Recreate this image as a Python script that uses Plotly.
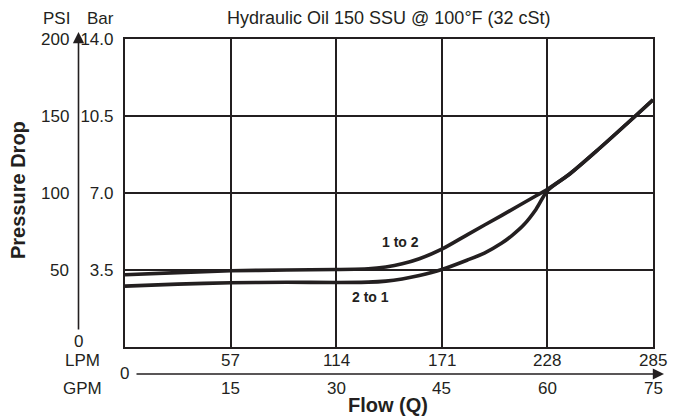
import plotly.graph_objects as go

# ---- data ----
lpm_ticks = [57, 114, 171, 228, 285]
gpm_ticks = [15, 30, 45, 60, 75]
psi_ticks = [50, 100, 150, 200]
bar_ticks = ["3.5", "7.0", "10.5", "14.0"]

flow_1to2 = [0, 28.4, 57, 87.3, 114, 131.3, 140.8, 149.6, 158.9, 171, 184.9, 203.4, 221.9, 228, 240.2, 253.8, 274.6, 285]
psi_1to2 = [46.9, 48.3, 49.5, 50.0, 50.3, 50.8, 52.0, 54.0, 57.3, 63.5, 73.0, 85.5, 98.2, 102.5, 112.5, 126.5, 149.0, 160.5]

flow_2to1 = [0, 28.4, 57, 87.3, 114, 131.3, 140.8, 149.6, 158.9, 171, 184.9, 194, 203.4, 209, 215, 221.9, 228, 240.2, 253.8, 274.6, 285]
psi_2to1 = [39.5, 40.8, 41.7, 42.0, 41.9, 42.1, 42.8, 44.2, 46.4, 50.3, 56.5, 61.0, 67.5, 72.5, 79.0, 89.5, 101.5, 112.5, 126.5, 149.0, 160.5]

title_text = "Hydraulic Oil 150 SSU @ 100°F (32 cSt)"

INK = "#231f20"
FONT = "Liberation Sans, Arial, sans-serif"

# plot area in pixels
W, H = 683, 418
L, R, T, B = 125, 30, 39, 71
pw, ph = W - L - R, H - T - B


def px(xp):
    return (xp - L) / pw


def py(yp):
    return (H - B - yp) / ph


fig = go.Figure()
for fx, fy in ((flow_1to2, psi_1to2), (flow_2to1, psi_2to1)):
    fig.add_trace(go.Scatter(x=fx, y=fy, mode="lines",
                             line=dict(color=INK, width=3.6, shape="spline", smoothing=0.7),
                             showlegend=False, hoverinfo="skip"))


def txt(x, y, s, xref="paper", yref="paper", size=17, xa="center", ya="middle", **kw):
    d = dict(x=x, y=y, xref=xref, yref=yref, text=s, showarrow=False,
             xanchor=xa, yanchor=ya, font=dict(size=size, color=INK, family=FONT))
    d.update(kw)
    return d


ann = []
# PSI column labels
for v in psi_ticks:
    ann.append(txt(px(71), v, str(v), yref="y", xa="right"))
ann.append(txt(px(78.5), py(341), "0"))
# headers
ann.append(txt(px(56), py(18), "PSI"))
ann.append(txt(px(100.5), py(18), "Bar"))
ann.append(txt(px(389), py(18), title_text, size=18))
# LPM / GPM labels
for lv, gv in zip(lpm_ticks, gpm_ticks):
    ann.append(txt(lv, py(360.5), str(lv), xref="x"))
    ann.append(txt(lv, py(389), str(gv), xref="x"))
ann.append(txt(px(82), py(360.5), "LPM"))
ann.append(txt(px(82), py(389), "GPM"))
ann.append(txt(px(124), py(373), "0"))
# axis titles
ann.append(txt(px(388), py(405), "<b>Flow (Q)</b>", size=20))
ann.append(txt(px(18), py(190), "<b>Pressure Drop</b>", size=20, textangle=-90))
# curve labels
ann.append(txt(148.9, 67.9, "<b>1 to 2</b>", xref="x", yref="y", size=14))
ann.append(txt(132.4, 32.7, "<b>2 to 1</b>", xref="x", yref="y", size=14))
# arrows
ann.append(dict(x=px(78.5), y=py(32), xref="paper", yref="paper", ax=0, ay=299, axref="pixel", ayref="pixel",
                text="", showarrow=True, arrowhead=2, arrowsize=1.4, arrowwidth=1.6, arrowcolor=INK))
ann.append(dict(x=px(664), y=py(374), xref="paper", yref="paper", ax=-529, ay=0, axref="pixel", ayref="pixel",
                text="", showarrow=True, arrowhead=2, arrowsize=1.4, arrowwidth=1.6, arrowcolor=INK))

fig.update_layout(
    width=W, height=H, autosize=False,
    margin=dict(l=L, r=R, t=T, b=B, pad=0),
    paper_bgcolor="white", plot_bgcolor="white",
    font=dict(family=FONT, size=17, color=INK),
    annotations=ann,
    xaxis=dict(range=[0, 285], tickvals=lpm_ticks, showticklabels=False,
               showgrid=True, gridcolor=INK, gridwidth=1.5, zeroline=False,
               showline=True, linecolor=INK, linewidth=2.2, mirror=True,
               ticks="", fixedrange=True),
    yaxis=dict(range=[0, 200], tickvals=psi_ticks, ticktext=bar_ticks,
               showgrid=True, gridcolor=INK, gridwidth=1.5, zeroline=False,
               showline=True, linecolor=INK, linewidth=2.2, mirror=True,
               ticks="", ticklabelstandoff=6, tickfont=dict(size=17, color=INK, family=FONT),
               fixedrange=True),
)

fig.write_html("out.html", config={"displayModeBar": False},
               post_script="document.body.style.margin='0';document.body.style.overflow='hidden';")
